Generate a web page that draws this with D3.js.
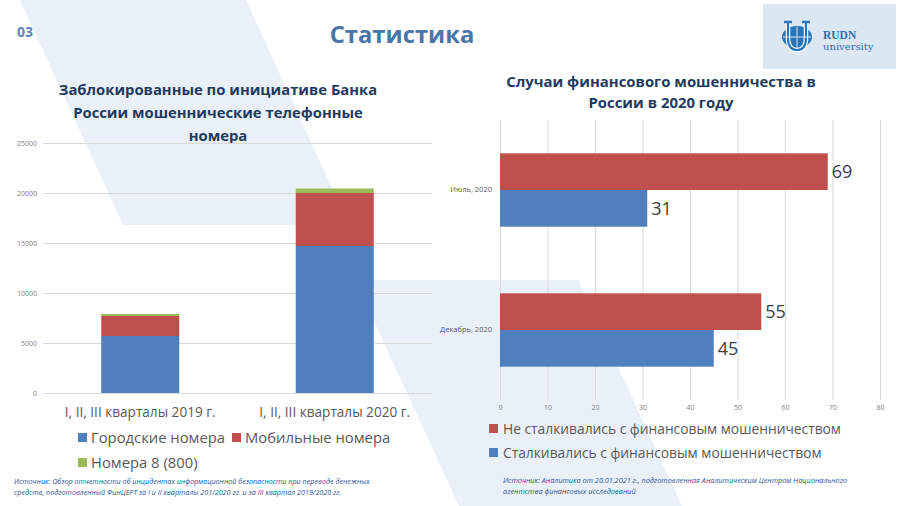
<!DOCTYPE html>
<html><head><meta charset="utf-8">
<script src="https://cdn.jsdelivr.net/npm/d3@7"></script>
<style>
html,body{margin:0;padding:0;background:#fff;}
svg{display:block;font-family:"Open Sans",sans-serif;}
</style></head>
<body>
<svg id="c" width="900" height="506"></svg>
<script>
// ---------- DATA ----------
const leftCategories = ["I, II, III кварталы 2019 г.", "I, II, III кварталы 2020 г."];
const cityNumbers   = [5700, 14700];   // Городские номера
const mobileNumbers = [2000, 5300];    // Мобильные номера
const tollFree      = [200, 450];      // Номера 8 (800)
const leftTicks     = [0, 5000, 10000, 15000, 20000, 25000];
const leftSeries    = ["Городские номера", "Мобильные номера", "Номера 8 (800)"];

const periods   = ["Июль, 2020", "Декабрь, 2020"];
const notFaced  = [69, 55];  // Не сталкивались
const faced     = [31, 45];  // Сталкивались
const rightTicks = [0, 10, 20, 30, 40, 50, 60, 70, 80];
const rightSeries = ["Не сталкивались с финансовым мошенничеством", "Сталкивались с финансовым мошенничеством"];

// ---------- STYLE ----------
const BLUE = "#4f7fbd", RED = "#c0504d", GREEN = "#9bbb59";
const GRID = "#d9d9d9", NAVY = "#1f3a60", BG = "#e9f0f8";

const svg = d3.select("#c");
svg.append("rect").attr("width", 900).attr("height", 506).attr("fill", "#fff");

// background decorative shapes
svg.append("polygon").attr("points", "20,0 246,0 349,225 123,225").attr("fill", BG);
svg.append("polygon").attr("points", "355,280 578,280 682,506 459,506").attr("fill", BG);

// header
svg.append("text").attr("x", 17).attr("y", 37).text("03")
  .attr("font-size", 14).attr("font-weight", 700).attr("fill", "#5b86b8");
svg.append("text").attr("x", 402).attr("y", 43).attr("text-anchor", "middle").text("Статистика")
  .attr("font-size", 23.8).attr("font-weight", 700).attr("fill", "#4a75a8");

// logo
const logo = svg.append("g");
logo.append("rect").attr("x", 763).attr("y", 4).attr("width", 133).attr("height", 65).attr("fill", "#dbe7f3");
logo.append("ellipse").attr("cx", 797).attr("cy", 37).attr("rx", 15).attr("ry", 11).attr("fill", "#2b74b8");
logo.append("path").attr("d", "M788,23 L788,38 Q788,50 797,50 Q806,50 806,38 L806,23")
  .attr("fill", "none").attr("stroke", "#fff").attr("stroke-width", 4.5);
logo.append("path").attr("d", "M788,23 L788,38 Q788,50 797,50 Q806,50 806,38 L806,23")
  .attr("fill", "none").attr("stroke", "#2b74b8").attr("stroke-width", 2.2);
logo.append("path").attr("d", "M784,22 L792,22 M802,22 L810,22").attr("stroke", "#2b74b8").attr("stroke-width", 2.5);
logo.append("path").attr("d", "M783,37 L811,37 M797,27 L797,48").attr("stroke", "#fff").attr("stroke-width", 0.8);
logo.append("text").attr("x", 823).attr("y", 39).text("RUDN")
  .attr("font-family", "Liberation Serif, DejaVu Serif, serif").attr("font-weight", 700)
  .attr("font-size", 11.5).attr("fill", "#2b6fb3");
logo.append("text").attr("x", 823).attr("y", 49.5).text("university")
  .attr("font-family", "DejaVu Serif, serif")
  .attr("font-size", 10).attr("fill", "#2b6fb3");

// ---------- LEFT CHART ----------
const lt = ["Заблокированные по инициативе Банка", "России мошеннические телефонные", "номера"];
svg.append("g").selectAll("text").data(lt).join("text")
  .attr("x", 218).attr("y", (d, i) => 95 + i * 23).attr("text-anchor", "middle")
  .attr("font-size", 14.8).attr("font-weight", 700).attr("fill", NAVY).text(d => d);

const L = {x0: 43, x1: 432, y0: 393, y1: 143};
const xL = d3.scaleBand().domain(leftCategories).range([L.x0, L.x1]).paddingInner(0.599).paddingOuter(0.2995);
const yL = d3.scaleLinear().domain([0, 25000]).range([L.y0, L.y1]);

const gy = svg.append("g").attr("transform", `translate(${L.x0},0)`)
  .call(d3.axisLeft(yL).tickValues(leftTicks).tickSize(-(L.x1 - L.x0)).tickPadding(6).tickFormat(d3.format("d")));
gy.select(".domain").remove();
gy.selectAll("line").attr("stroke", GRID);
gy.selectAll("text").attr("font-size", 7).attr("fill", "#808080").attr("font-family", "Open Sans, sans-serif");

const leftRows = leftCategories.map((c, i) => ({cat: c, city: cityNumbers[i], mob: mobileNumbers[i], free: tollFree[i]}));
const stack = d3.stack().keys(["city", "mob", "free"])(leftRows);
const lColors = [BLUE, RED, GREEN];
svg.append("g").selectAll("g").data(stack).join("g").attr("fill", (d, i) => lColors[i])
  .selectAll("rect").data(d => d).join("rect")
  .attr("x", d => xL(d.data.cat)).attr("width", xL.bandwidth())
  .attr("y", d => yL(d[1])).attr("height", d => yL(d[0]) - yL(d[1]));

svg.append("g").selectAll("text").data(leftCategories).join("text")
  .attr("x", d => xL(d) + xL.bandwidth() / 2).attr("y", 417).attr("text-anchor", "middle")
  .attr("font-size", 13.6).attr("fill", "#595959").text(d => d);

const legL = [{x: 78, y: 433}, {x: 232, y: 433}, {x: 78, y: 458}];
const lgL = svg.append("g").selectAll("g").data(leftSeries).join("g")
  .attr("transform", (d, i) => `translate(${legL[i].x},${legL[i].y})`);
lgL.append("rect").attr("width", 9).attr("height", 9).attr("fill", (d, i) => lColors[i]);
lgL.append("text").attr("x", 13).attr("y", 10).attr("font-size", 14.8).attr("fill", "#595959").text(d => d);

// ---------- RIGHT CHART ----------
const rt = ["Случаи финансового мошенничества в", "России в 2020 году"];
svg.append("g").selectAll("text").data(rt).join("text")
  .attr("x", 661).attr("y", (d, i) => 87 + i * 21).attr("text-anchor", "middle")
  .attr("font-size", 14.9).attr("font-weight", 700).attr("fill", NAVY).text(d => d);

const R = {x0: 500, x1: 880, y0: 120, y1: 400};
const xR = d3.scaleLinear().domain([0, 80]).range([R.x0, R.x1]);
const yR = d3.scaleBand().domain(periods).range([R.y0, R.y1]).paddingInner(0.476).paddingOuter(0.238);
const ySub = d3.scaleBand().domain(["notFaced", "faced"]).range([0, yR.bandwidth()]);

const gx = svg.append("g").attr("transform", `translate(0,${R.y1})`)
  .call(d3.axisBottom(xR).tickValues(rightTicks).tickSize(-(R.y1 - R.y0)).tickPadding(5));
gx.select(".domain").remove();
gx.selectAll("line").attr("stroke", GRID);
gx.selectAll("text").attr("font-size", 7).attr("fill", "#808080").attr("font-family", "Open Sans, sans-serif");

const gyR = svg.append("g").attr("transform", `translate(${R.x0},0)`)
  .call(d3.axisLeft(yR).tickSize(0).tickPadding(8));
gyR.select(".domain").remove();
gyR.selectAll("text").attr("font-size", 7.5).attr("fill", "#595959").attr("font-family", "Open Sans, sans-serif");

const rightRows = [];
periods.forEach((p, i) => {
  rightRows.push({p, key: "notFaced", v: notFaced[i], c: RED});
  rightRows.push({p, key: "faced", v: faced[i], c: BLUE});
});
svg.append("g").selectAll("rect").data(rightRows).join("rect")
  .attr("x", xR(0)).attr("y", d => yR(d.p) + ySub(d.key))
  .attr("width", d => xR(d.v) - xR(0)).attr("height", ySub.bandwidth()).attr("fill", d => d.c);
svg.append("g").selectAll("text").data(rightRows).join("text")
  .attr("x", d => xR(d.v) + 4).attr("y", d => yR(d.p) + ySub(d.key) + ySub.bandwidth() / 2)
  .attr("dy", "0.35em").attr("font-size", 18).attr("fill", "#404040").text(d => d.v);

const rColors = [RED, BLUE];
const lgR = svg.append("g").selectAll("g").data(rightSeries).join("g")
  .attr("transform", (d, i) => `translate(489,${424 + i * 24})`);
lgR.append("rect").attr("width", 9).attr("height", 9).attr("fill", (d, i) => rColors[i]);
lgR.append("text").attr("x", 14).attr("y", 9.5).attr("font-size", 13.8).attr("fill", "#595959").text(d => d);

// ---------- SOURCES ----------
const srcL = ["Источник: Обзор отчетности об инцидентах информационной безопасности при переводе денежных",
  "средств, подготовленный ФинЦЕРТ за I и II кварталы 201/2020 гг. и за III квартал 2019/2020 гг."];
const srcR = ["Источник: Аналитика от 20.01.2021 г., подготовленная Аналитическим Центром Национального",
  "агентства финансовых исследований"];
svg.append("g").selectAll("text").data(srcL).join("text")
  .attr("x", 14).attr("y", (d, i) => 484 + i * 11).attr("font-size", 7.2).attr("font-style", "italic")
  .attr("fill", "#2f5597").text(d => d);
svg.append("g").selectAll("text").data(srcR).join("text")
  .attr("x", 503).attr("y", (d, i) => 483 + i * 11).attr("font-size", 7.3).attr("font-style", "italic")
  .attr("fill", "#2f5597").text(d => d);
</script>
</body></html>
